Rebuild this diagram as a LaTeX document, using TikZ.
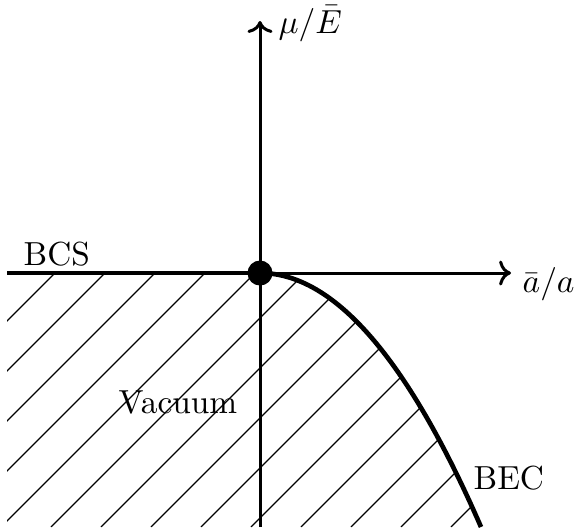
\documentclass[tikz,border=0pt]{standalone}
\usepackage{amsmath,amssymb}
\usepackage{tikz}
\usetikzlibrary{positioning,arrows.meta}

\begin{document}
\begin{tikzpicture}[
    x=0.3pt, y=-0.3pt,
    axis/.style={->, line width=0.9pt},
    phase/.style={line width=1.4pt},
    hatch/.style={line width=0.35pt},
    label/.style={anchor=base west, inner sep=0pt}
]
\useasboundingbox (0,0) rectangle (579,531);

\coordinate (O) at (260,273);
\coordinate (left) at (7,273);
\coordinate (right) at (511,273);
\coordinate (bottom) at (260,527);
\coordinate (top) at (260,21);
\coordinate (curveend) at (481,527);

% hatched region below the transition line
\begin{scope}
\clip (left) -- (O) -- plot[domain=0:221, samples=60] ({260+\x},{273+0.52*(\x/10)*(\x/10)}) -- (curveend) -- (7,527) -- cycle;
\foreach \c in {278,328,...,1028}
    \draw[hatch] ({\c-273},273) -- ({\c-527},527);
\end{scope}

% axes
\draw[axis] (bottom) -- (top);
\draw[axis] (O) -- (right);
\draw[phase] (left) -- (O);
\draw[phase] plot[domain=0:221, samples=60] ({260+\x},{273+0.52*(\x/10)*(\x/10)});
\fill (O) circle[radius=3.75pt];

\node[label] (ylabel) at (278,33) {$\mu/\bar{E}$};
\node[label] (xlabel) at (522,292) {$\bar{a}/a$};
\node[label] (bcs) at (23,265) {BCS};
\node[label] (vacuum) at (118,413) {Vacuum};
\node[label] (bec) at (473,489) {BEC};

\end{tikzpicture}
\end{document}
